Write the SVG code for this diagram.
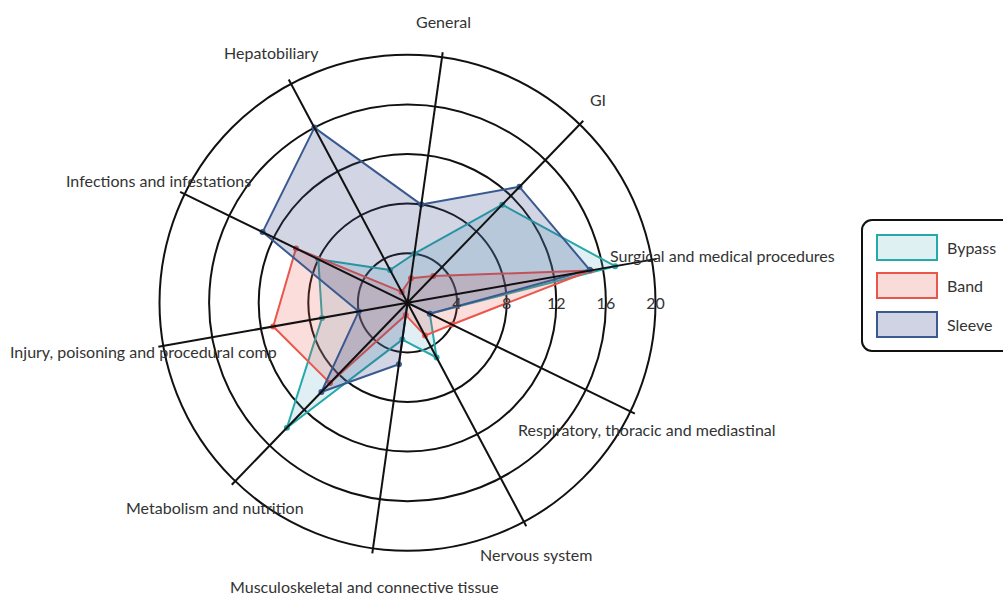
<svg xmlns="http://www.w3.org/2000/svg" width="1003" height="595" viewBox="0 0 1003 595">
<style>
.lbl{font-family:Lato,"Liberation Sans",sans-serif;font-size:16px;fill:#333}
.tick{font-family:Lato,"Liberation Sans",sans-serif;font-size:16px;fill:#333;text-anchor:middle}
.ring{fill:none;stroke:#111;stroke-width:2}
.axis{stroke:#111;stroke-width:2}
.bypass{fill:#5fb0c8;fill-opacity:0.2;stroke:#26a9a9;stroke-width:2;stroke-linejoin:round}
.band{fill:#e9574b;fill-opacity:0.2;stroke:#e9574b;stroke-width:2;stroke-linejoin:round}
.sleeve{fill:#3a4a8a;fill-opacity:0.23;stroke:#3a5a8f;stroke-width:2;stroke-linejoin:round}
.pb{fill:#26a9a9}.pr{fill:#e9574b}.ps{fill:#3a5a8f}
</style>
<rect width="1003" height="595" fill="#fff"/>
<g id="grid">
<circle class="ring" cx="407.5" cy="302.8" r="49.6"/>
<circle class="ring" cx="407.5" cy="302.8" r="99.2"/>
<circle class="ring" cx="407.5" cy="302.8" r="148.8"/>
<circle class="ring" cx="407.5" cy="302.8" r="198.4"/>
<circle class="ring" cx="407.5" cy="302.8" r="248"/>
</g>
<g id="series-bypass">
<polygon class="bypass" points="615.1,266.2 502.3,204.7 414.4,253.7 390.0,270.0 318.3,259.3 322.0,317.9 286.9,427.7 402.3,339.6 436.6,357.5 429.8,313.7"/>
<g class="pb">
<circle cx="615.1" cy="266.2" r="3"/><circle cx="502.3" cy="204.7" r="3"/><circle cx="414.4" cy="253.7" r="3"/><circle cx="390.0" cy="270.0" r="3"/><circle cx="318.3" cy="259.3" r="3"/><circle cx="322.0" cy="317.9" r="3"/><circle cx="286.9" cy="427.7" r="3"/><circle cx="402.3" cy="339.6" r="3"/><circle cx="436.6" cy="357.5" r="3"/><circle cx="429.8" cy="313.7" r="3"/>
</g>
</g>
<g id="series-band">
<polygon class="band" points="590.7,270.5 433.3,276.0 411.0,278.2 401.7,291.9 296.0,248.4 273.2,326.5 330.0,383.1 405.8,315.1 425.0,335.6 452.1,324.5"/>
<g class="pr">
<circle cx="590.7" cy="270.5" r="3"/><circle cx="433.3" cy="276.0" r="3"/><circle cx="411.0" cy="278.2" r="3"/><circle cx="401.7" cy="291.9" r="3"/><circle cx="296.0" cy="248.4" r="3"/><circle cx="273.2" cy="326.5" r="3"/><circle cx="330.0" cy="383.1" r="3"/><circle cx="405.8" cy="315.1" r="3"/><circle cx="425.0" cy="335.6" r="3"/><circle cx="452.1" cy="324.5" r="3"/>
</g>
</g>
<g id="series-sleeve">
<polygon class="sleeve" points="589.7,269.8 519.5,186.8 421.3,204.6 314.4,127.6 262.6,232.1 358.7,311.4 321.4,392.0 398.9,364.2 407.5,302.8 429.8,313.7"/>
<g class="ps">
<circle cx="589.7" cy="269.8" r="3"/><circle cx="519.5" cy="186.8" r="3"/><circle cx="421.3" cy="204.6" r="3"/><circle cx="314.4" cy="127.6" r="3"/><circle cx="262.6" cy="232.1" r="3"/><circle cx="358.7" cy="311.4" r="3"/><circle cx="321.4" cy="392.0" r="3"/><circle cx="398.9" cy="364.2" r="3"/><circle cx="407.5" cy="302.8" r="3"/><circle cx="429.8" cy="313.7" r="3"/>
</g>
</g>
<g id="axes" transform="translate(407.5 302.8)">
<line class="axis" x1="0" y1="0" x2="253" y2="0" transform="rotate(-10)"/>
<line class="axis" x1="0" y1="0" x2="253" y2="0" transform="rotate(-46)"/>
<line class="axis" x1="0" y1="0" x2="253" y2="0" transform="rotate(-82)"/>
<line class="axis" x1="0" y1="0" x2="253" y2="0" transform="rotate(-118)"/>
<line class="axis" x1="0" y1="0" x2="253" y2="0" transform="rotate(-154)"/>
<line class="axis" x1="0" y1="0" x2="253" y2="0" transform="rotate(-190)"/>
<line class="axis" x1="0" y1="0" x2="253" y2="0" transform="rotate(-226)"/>
<line class="axis" x1="0" y1="0" x2="253" y2="0" transform="rotate(-262)"/>
<line class="axis" x1="0" y1="0" x2="253" y2="0" transform="rotate(-298)"/>
<line class="axis" x1="0" y1="0" x2="253" y2="0" transform="rotate(-334)"/>
</g>
<g id="ticks">
<text class="tick" x="457" y="308.5">4</text>
<text class="tick" x="506.7" y="308.5">8</text>
<text class="tick" x="556.3" y="308.5">12</text>
<text class="tick" x="605.9" y="308.5">16</text>
<text class="tick" x="655.5" y="308.5">20</text>
</g>
<g id="labels">
<text class="lbl" x="443.5" y="28" text-anchor="middle">General</text>
<text class="lbl" x="598" y="105.5" text-anchor="middle">GI</text>
<text class="lbl" x="610" y="261.5">Surgical and medical procedures</text>
<text class="lbl" x="518" y="435.5">Respiratory, thoracic and mediastinal</text>
<text class="lbl" x="480" y="561">Nervous system</text>
<text class="lbl" x="230" y="593">Musculoskeletal and connective tissue</text>
<text class="lbl" x="126" y="513.5">Metabolism and nutrition</text>
<text class="lbl" x="10" y="358">Injury, poisoning and procedural comp</text>
<text class="lbl" x="66" y="186.5">Infections and infestations</text>
<text class="lbl" x="224" y="58.5">Hepatobiliary</text>
</g>
<g id="legend">
<rect x="862" y="220" width="160" height="131" rx="10" ry="10" fill="#fff" stroke="#111" stroke-width="2"/>
<rect x="877" y="235" width="60" height="25" fill="#dff0f3" stroke="#26a9a9" stroke-width="2"/>
<text class="lbl" x="947" y="253.5">Bypass</text>
<rect x="877" y="273" width="60" height="25" fill="#f9dcd9" stroke="#e9574b" stroke-width="2"/>
<text class="lbl" x="947" y="291.5">Band</text>
<rect x="877" y="312" width="60" height="25" fill="#d0d3e3" stroke="#3a5a8f" stroke-width="2"/>
<text class="lbl" x="947" y="330.5">Sleeve</text>
</g>
</svg>
